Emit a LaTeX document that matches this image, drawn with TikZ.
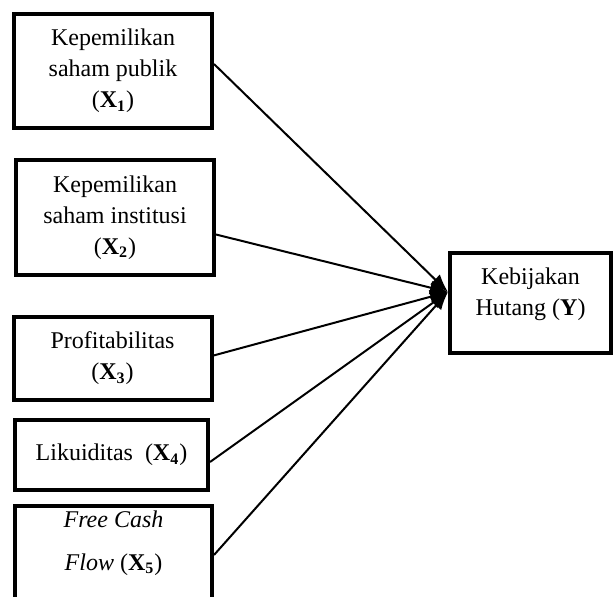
\documentclass[tikz,border=0pt]{standalone}
\usepackage{fontspec}
\setmainfont{Liberation Serif}
\usetikzlibrary{arrows.meta}
\begin{document}
\begin{tikzpicture}[x=0.5pt,y=-0.5pt,
        kotak/.style={draw,line width=2pt,minimum width=99pt,align=center,inner sep=0pt,font=\fontsize{12}{15.5}\selectfont},
        teks/.style={align=center,inner sep=0pt,font=\fontsize{12}{15.5}\selectfont},
        panah/.style={line width=1pt,-{Latex[length=9pt,width=7pt]}}]
        \useasboundingbox (0,0) rectangle (615,596);

        % variabel bebas
        \node[kotak,minimum height=57pt] (x1) at (113,71) {Kepemilikan\\saham publik\\(\textbf{X\textsubscript{1}})};
        \node[kotak,minimum height=57.5pt] (x2) at (115,217.5) {Kepemilikan\\saham institusi\\(\textbf{X\textsubscript{2}})};
        \node[kotak,minimum height=41.5pt] (x3) at (112.5,358.5) {Profitabilitas\\(\textbf{X\textsubscript{3}})};
        \node[kotak,minimum width=96.5pt,minimum height=35pt] (x4) at (111.5,455) {Likuiditas~ (\textbf{X\textsubscript{4}})};
        \node[kotak,minimum width=98.5pt,minimum height=59pt] (x5) at (113.5,565) {};
        \node[teks] (t5) at (113.5,543) {\textit{Free Cash}\\[6pt]\textit{Flow} (\textbf{X\textsubscript{5}})};

        % variabel terikat
        \node[kotak,minimum width=80.5pt,minimum height=50pt] (y) at (530.5,303) {};
        \node[teks] (ty) at (530.5,294) {Kebijakan\\Hutang (\textbf{Y})};

        \draw[panah] ([yshift=3.5pt]x1.east) -- ([yshift=5.5pt]y.west);
        \draw[panah] ([yshift=-8.5pt]x2.east) -- ([yshift=5.5pt]y.west);
        \draw[panah] ([yshift=1.5pt]x3.east) -- ([yshift=5.5pt]y.west);
        \draw[panah] ([yshift=-3.5pt]x4.east) -- ([yshift=5.5pt]y.west);
        \draw[panah] ([yshift=5pt]x5.east) -- ([yshift=5.5pt]y.west);
\end{tikzpicture}
\end{document}
